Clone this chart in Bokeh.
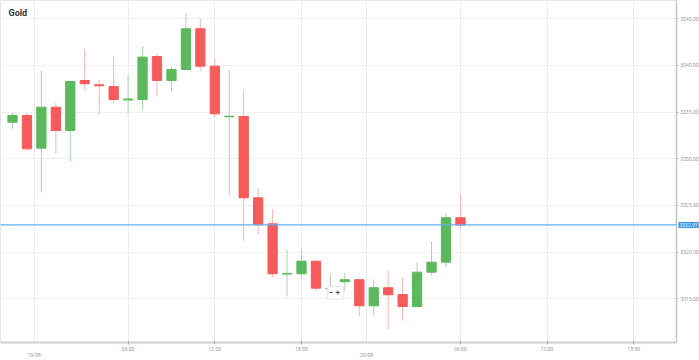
from bokeh.plotting import figure
from bokeh.models import (ColumnDataSource, FixedTicker, LinearAxis, NumeralTickFormatter,
                          Span, Label)
from bokeh.embed import file_html
from bokeh.resources import INLINE

# ---- data (hourly candles, x = candle index) ----
opens  = [3333.92, 3334.64, 3331.14, 3335.53, 3333.03, 3338.39, 3337.93, 3337.75,
          3336.30, 3336.35, 3340.96, 3338.39, 3339.57, 3343.93, 3339.92, 3334.50,
          3334.53, 3325.82, 3323.03, 3317.65, 3317.68, 3319.03, 3316.05, 3316.82,
          3317.04, 3314.25, 3316.18, 3315.46, 3314.17, 3317.85, 3318.92, 3323.68]
highs  = [3334.93, 3334.93, 3339.46, 3335.96, 3338.30, 3341.79, 3338.46, 3340.99,
          3339.00, 3342.06, 3341.31, 3339.89, 3345.54, 3345.00, 3340.78, 3339.54,
          3337.24, 3326.89, 3324.57, 3320.25, 3320.36, 3319.10, 3317.60, 3317.79,
          3317.10, 3317.07, 3318.03, 3317.25, 3318.92, 3321.14, 3324.17, 3326.25]
lows   = [3333.21, 3330.81, 3326.40, 3330.60, 3329.64, 3337.32, 3334.71, 3336.00,
          3334.82, 3335.25, 3336.71, 3337.24, 3339.50, 3339.39, 3334.46, 3326.07,
          3321.14, 3321.86, 3317.31, 3315.25, 3317.14, 3315.89, 3315.25, 3315.81,
          3313.13, 3313.13, 3311.71, 3312.67, 3314.10, 3317.50, 3318.39, 3322.56]
closes = [3334.64, 3331.07, 3335.53, 3333.03, 3338.28, 3338.04, 3337.82, 3336.35,
          3336.40, 3340.89, 3338.39, 3339.57, 3343.93, 3339.92, 3334.82, 3334.56,
          3325.82, 3322.93, 3317.68, 3317.72, 3319.03, 3316.14, 3316.10, 3317.04,
          3314.25, 3316.18, 3315.43, 3314.17, 3317.85, 3318.92, 3323.68, 3322.91]

time_tick_pos = [8, 14, 20, 31, 37, 43]
time_tick_labels = ["06:00", "12:00", "18:00", "06:00", "12:00", "18:00"]
date_tick_pos = [1.5, 24.5]
date_tick_labels = ["19/08", "20/08"]
price_ticks = [3315, 3320, 3325, 3330, 3335, 3340, 3345]
title_text = "Gold"

GREEN = "#5cb85c"
RED = "#f65a5a"
GREEN_W = "#a9d9a9"
RED_W = "#f9b3b3"

n = len(opens)
xs = list(range(n))
up = [c >= o for o, c in zip(opens, closes)]
src = ColumnDataSource(dict(
    x=xs,
    top=[max(o, c) for o, c in zip(opens, closes)],
    bottom=[min(o, c) for o, c in zip(opens, closes)],
    high=highs, low=lows,
    color=[GREEN if u else RED for u in up],
    wcolor=[GREEN_W if u else RED_W for u in up],
))

FW, FH = 676, 342
PX_PER_CANDLE = 14.45
PX_PER_UNIT = 9.333
X0 = -0.83
YTOP = 3346.96
p = figure(frame_width=FW, frame_height=FH, output_backend="svg", toolbar_location=None,
           x_range=(X0, X0 + FW / PX_PER_CANDLE),
           y_range=(YTOP - FH / PX_PER_UNIT, YTOP),
           y_axis_location="right",
           min_border_left=0, min_border_top=0, min_border_right=0, min_border_bottom=0)
p.background_fill_color = "white"
p.border_fill_color = "white"
p.outline_line_color = "#e6e6e6"

# grid
p.xgrid.ticker = FixedTicker(ticks=time_tick_pos + date_tick_pos)
p.xgrid.grid_line_color = "#ededed"
p.ygrid.ticker = FixedTicker(ticks=price_ticks)
p.ygrid.grid_line_color = "#f0f0f0"

# y axis (right)
ya = p.yaxis[0]
ya.ticker = FixedTicker(ticks=price_ticks)
ya.formatter = NumeralTickFormatter(format="0.00")
ya.axis_line_color = "#c4c4c4"
ya.axis_line_width = 1.5
ya.major_tick_out = 2
ya.major_tick_in = 0
ya.major_tick_line_color = "#bbbbbb"
ya.minor_tick_line_color = None
ya.major_label_standoff = 2
ya.major_label_text_font = "Roboto"
ya.major_label_text_font_size = "5px"
ya.major_label_text_color = "#9a9a9a"

# x axis (times)
xa = p.xaxis[0]
xa.ticker = FixedTicker(ticks=time_tick_pos)
xa.major_label_overrides = {k: v for k, v in zip(time_tick_pos, time_tick_labels)}
xa.axis_line_color = "#cfcfcf"
xa.axis_line_width = 2
xa.major_tick_out = 2
xa.major_tick_in = 2
xa.major_tick_line_color = "#aaaaaa"
xa.minor_tick_line_color = None
xa.major_label_standoff = 1
xa.major_label_text_font = "Roboto"
xa.major_label_text_font_size = "5px"
xa.major_label_text_color = "#9a9a9a"

# x axis (dates)
da = LinearAxis(ticker=FixedTicker(ticks=date_tick_pos))
da.major_label_overrides = {k: v for k, v in zip(date_tick_pos, date_tick_labels)}
da.axis_line_color = None
da.major_tick_out = 0
da.major_tick_in = 0
da.major_tick_line_color = None
da.minor_tick_line_color = None
da.major_label_standoff = -3
da.major_label_text_font = "Roboto"
da.major_label_text_font_size = "5px"
da.major_label_text_color = "#9a9a9a"
p.add_layout(da, "below")

# candles
p.segment(x0="x", y0="low", x1="x", y1="high", color="wcolor", line_width=1, source=src)
p.vbar(x="x", width=0.64, top="top", bottom="bottom", fill_color="color",
       line_color="color", line_width=1, source=src)

# current price line & tag
last = closes[-1]
p.add_layout(Span(location=last, dimension="width", line_color="#62b0ec", line_width=1.3))
tag = Label(x=-23, y=last, x_units="screen", y_units="data",
            text=f"{last:.2f}",
            text_font="Roboto", text_font_size="5px", text_color="white",
            text_baseline="middle", background_fill_color="#2f95ea",
            background_fill_alpha=1.0, padding=1)
p.add_layout(tag, "right")

# title
p.add_layout(Label(x=8, y=FH - 12.3, x_units="screen", y_units="screen", text=title_text,
                   text_font="Roboto", text_font_style="bold", text_font_size="9px",
                   text_color="#333333", text_baseline="middle"))

# zoom buttons
p.add_layout(Label(x=335, y=50, x_units="screen", y_units="screen", text="\u2212  +",
                   text_font="Roboto", text_font_style="bold", text_font_size="8px",
                   text_color="#555555", text_align="center", text_baseline="middle",
                   background_fill_color="white", border_line_color="#e4e4e4",
                   padding=2, border_radius=2))

open("out.html", "w").write(file_html(p, INLINE))
